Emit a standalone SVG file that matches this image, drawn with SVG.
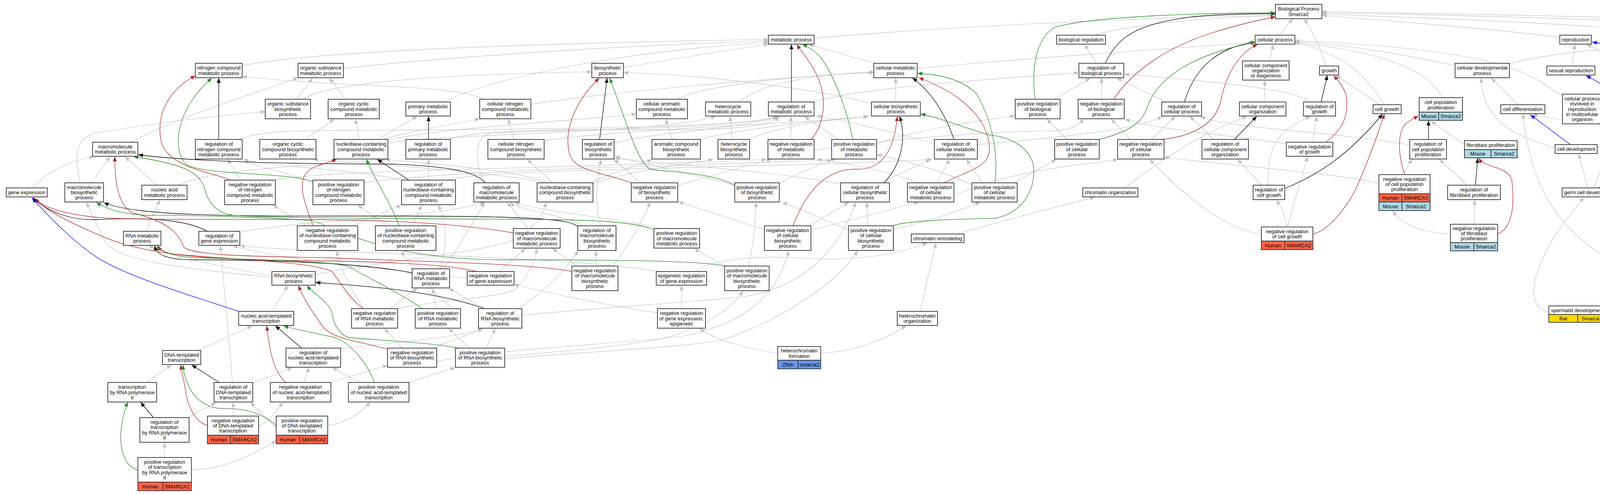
<svg xmlns="http://www.w3.org/2000/svg" width="5064" height="1267" viewBox="0 0 5064 1267">
<style>
text{font-family:"Liberation Sans",Arial,sans-serif;font-size:13px;text-anchor:middle;fill:#000}
.n rect{fill:#fff;stroke:#333;stroke-width:1.8}
.n .hu{fill:#ff6347}
.n .mo{fill:#add8e6}
.n .zf{fill:#6495ed}
.n .ra{fill:#ffd700}
.e path{fill:none}
.e .g{stroke:#c0c0c0;stroke-width:1.2;marker-end:url(#ag)}
.e .k{stroke:#000;stroke-width:1.3;marker-end:url(#ak)}
.e .r{stroke:#b22222;stroke-width:1.3;marker-end:url(#ar)}
.e .v{stroke:#228b22;stroke-width:1.3;marker-end:url(#av)}
.e .b{stroke:#0000ff;stroke-width:1.3;marker-end:url(#ab)}
</style>
<defs>
<marker id="ag" markerUnits="userSpaceOnUse" markerWidth="12" markerHeight="10" refX="12" refY="5" orient="auto"><path d="M0,0 L12,5 L0,10 z" fill="#c0c0c0"/></marker>
<marker id="ak" markerUnits="userSpaceOnUse" markerWidth="12" markerHeight="10" refX="12" refY="5" orient="auto"><path d="M0,0 L12,5 L0,10 z" fill="#000"/></marker>
<marker id="ar" markerUnits="userSpaceOnUse" markerWidth="12" markerHeight="10" refX="12" refY="5" orient="auto"><path d="M0,0 L12,5 L0,10 z" fill="#b22222"/></marker>
<marker id="av" markerUnits="userSpaceOnUse" markerWidth="12" markerHeight="10" refX="12" refY="5" orient="auto"><path d="M0,0 L12,5 L0,10 z" fill="#228b22"/></marker>
<marker id="ab" markerUnits="userSpaceOnUse" markerWidth="12" markerHeight="10" refX="12" refY="5" orient="auto"><path d="M0,0 L12,5 L0,10 z" fill="#0000ff"/></marker>
</defs>
<rect x="0" y="0" width="5064" height="1267" fill="#fff"/>
<g id="edges" class="e">
<path class="g" d="M620,168 C800,130 1400,110 1967,101"/>
<path class="g" d="M879,175 C1100,150 1600,115 1967,105"/>
<path class="g" d="M1138,261 C1250,200 1600,130 1967,109"/>
<path class="g" d="M1596,173 C1700,155 1850,130 1967,113"/>
<path class="g" d="M1240,254 C1160,215 900,225 620,196"/>
<path class="g" d="M759,254 L800,200"/>
<path class="g" d="M883,254 C870,230 855,215 843,200"/>
<path class="g" d="M336,364 C450,300 650,240 763,199"/>
<path class="g" d="M775,254 C830,215 1100,190 1515,184"/>
<path class="g" d="M206,468 C185,380 200,345 260,338 C400,315 560,295 679,286"/>
<path class="g" d="M781,357 L856,305"/>
<path class="g" d="M920,357 L910,305"/>
<path class="g" d="M401,474 L320,401"/>
<path class="g" d="M234,468 L282,401"/>
<path class="g" d="M84,481 C120,440 180,410 241,401"/>
<path class="g" d="M610,357 C680,330 800,335 1000,333 C1500,330 1900,325 1994,298"/>
<path class="g" d="M457,474 C550,430 800,425 986,408"/>
<path class="g" d="M1359,267 C1600,230 2000,200 2237,184"/>
<path class="g" d="M967,357 L1068,298"/>
<path class="g" d="M980,357 C1050,335 1150,320 1228,304"/>
<path class="g" d="M990,360 C1100,330 1400,315 1629,292"/>
<path class="g" d="M993,365 C1200,340 1700,340 1832,298"/>
<path class="g" d="M1149,357 C1200,335 1400,330 1700,332 C1900,333 1980,320 1994,298"/>
<path class="g" d="M1315,357 L1301,305"/>
<path class="g" d="M1393,360 C1600,330 2000,320 2222,298"/>
<path class="g" d="M1572,367 C1650,340 1900,330 1998,298"/>
<path class="g" d="M1097,461 L1097,408"/>
<path class="g" d="M1028,461 C900,430 700,430 623,408"/>
<path class="g" d="M1144,461 C1250,430 2000,430 2386,408"/>
<path class="g" d="M1127,688 C1140,640 1150,580 1122,525"/>
<path class="g" d="M1057,578 L1079,525"/>
<path class="g" d="M905,578 L1027,525"/>
<path class="g" d="M992,578 L916,525"/>
<path class="g" d="M783,578 L699,525"/>
<path class="g" d="M615,461 L583,408"/>
<path class="g" d="M705,461 C800,435 1500,430 1962,408"/>
<path class="g" d="M801,470 C750,440 650,430 625,408"/>
<path class="g" d="M932,468 C1200,430 1800,425 2140,408"/>
<path class="g" d="M374,592 L409,512"/>
<path class="g" d="M696,705 C600,690 450,660 380,629"/>
<path class="g" d="M696,710 C500,690 300,670 270,620 C250,580 230,540 222,518"/>
<path class="g" d="M696,797 L737,731"/>
<path class="g" d="M507,897 L645,834"/>
<path class="g" d="M374,979 L439,934"/>
<path class="g" d="M648,981 L748,941"/>
<path class="g" d="M778,979 L791,941"/>
<path class="g" d="M595,979 C585,850 570,700 564,629"/>
<path class="g" d="M481,1069 L553,1030"/>
<path class="g" d="M597,1065 L597,1030"/>
<path class="g" d="M662,1089 C690,1080 700,1060 724,1030"/>
<path class="g" d="M707,1095 C680,1070 660,1050 642,1030"/>
<path class="g" d="M839,1089 C880,1085 920,1060 948,1030"/>
<path class="g" d="M421,1171 L421,1133"/>
<path class="g" d="M490,1203 C560,1200 620,1180 707,1128"/>
<path class="g" d="M872,894 C950,880 1150,870 1236,841"/>
<path class="g" d="M845,979 L992,935"/>
<path class="g" d="M921,979 L851,941"/>
<path class="g" d="M1046,979 L1165,941"/>
<path class="g" d="M1111,891 C1150,870 1200,860 1236,841"/>
<path class="g" d="M1244,891 L1268,841"/>
<path class="g" d="M1030,891 L984,841"/>
<path class="g" d="M1201,891 L1149,841"/>
<path class="g" d="M997,790 L1068,738"/>
<path class="g" d="M1117,790 L1108,738"/>
<path class="g" d="M1240,790 L1149,738"/>
<path class="g" d="M1135,688 C1170,640 1210,570 1241,518"/>
<path class="g" d="M1277,695 L1345,636"/>
<path class="g" d="M1477,681 L1415,636"/>
<path class="g" d="M1526,681 L1526,642"/>
<path class="g" d="M1569,681 C1600,640 1640,580 1664,518"/>
<path class="g" d="M1018,790 C1100,770 1300,760 1320,740 C1340,720 1370,680 1374,636"/>
<path class="g" d="M1160,790 C1120,760 1060,700 1027,642"/>
<path class="g" d="M930,790 C900,740 870,690 862,642"/>
<path class="g" d="M1328,790 C1400,740 1450,690 1480,642"/>
<path class="g" d="M614,594 C800,560 1100,560 1241,518"/>
<path class="g" d="M1196,712 C900,680 700,660 596,629"/>
<path class="g" d="M1690,695 C1400,650 800,650 614,629"/>
<path class="g" d="M807,703 C900,680 1200,650 1300,620 C1350,600 1390,560 1398,518"/>
<path class="g" d="M1242,468 C1215,420 1210,350 1260,340 C1500,330 1900,330 1990,298"/>
<path class="g" d="M1415,468 L1350,408"/>
<path class="g" d="M1410,468 C1300,430 1050,415 986,408"/>
<path class="g" d="M1507,468 C1580,440 1640,420 1669,408"/>
<path class="g" d="M1518,470 C1600,440 1750,420 1826,408"/>
<path class="g" d="M1400,468 C1200,430 900,420 802,408"/>
<path class="g" d="M1537,578 C1520,520 1530,450 1539,408"/>
<path class="g" d="M1490,578 C1450,550 1330,540 1306,518"/>
<path class="g" d="M1352,585 L1298,518"/>
<path class="g" d="M1690,585 C1600,560 1400,545 1318,518"/>
<path class="g" d="M1640,468 L1572,408"/>
<path class="g" d="M1735,475 C1850,440 1930,420 1975,408"/>
<path class="g" d="M1881,474 C1750,440 1650,420 1575,400"/>
<path class="g" d="M1721,357 L1704,305"/>
<path class="g" d="M1786,357 C1950,320 2150,305 2222,298"/>
<path class="g" d="M1875,357 L1869,298"/>
<path class="g" d="M1919,357 C1990,320 2150,305 2225,298"/>
<path class="g" d="M1891,261 C1950,210 2100,190 2237,184"/>
<path class="g" d="M1734,254 C1800,215 2100,190 2237,186"/>
<path class="g" d="M2293,261 L2293,200"/>
<path class="g" d="M2241,162 L2070,114"/>
<path class="g" d="M2084,261 C2200,225 2500,205 2761,186"/>
<path class="g" d="M2025,357 L2025,298"/>
<path class="g" d="M2146,357 L2060,298"/>
<path class="g" d="M2392,367 C2250,330 2150,305 2090,297"/>
<path class="g" d="M2502,371 C2600,360 2900,340 2975,298"/>
<path class="g" d="M2244,369 C2350,330 2500,310 2598,296"/>
<path class="g" d="M2084,385 C2300,350 2600,335 2690,335 C2740,335 2760,320 2775,305"/>
<path class="g" d="M1996,468 C2050,440 2100,420 2130,408"/>
<path class="g" d="M2152,471 C2000,440 1700,420 1573,405"/>
<path class="g" d="M2255,468 L2382,408"/>
<path class="g" d="M2352,468 C2250,430 2150,415 2092,408"/>
<path class="g" d="M2398,468 L2431,408"/>
<path class="g" d="M2515,468 L2474,408"/>
<path class="g" d="M2488,474 C2400,430 2300,410 2244,395"/>
<path class="g" d="M2070,578 L2173,518"/>
<path class="g" d="M2076,588 C2200,560 2300,530 2352,518"/>
<path class="g" d="M2222,578 L2219,518"/>
<path class="g" d="M2287,588 C2400,560 2480,530 2509,518"/>
<path class="g" d="M2172,588 C2100,560 2040,530 2003,518"/>
<path class="g" d="M1957,588 C1870,560 1780,530 1737,517"/>
<path class="g" d="M1855,681 C1820,660 1790,645 1778,636"/>
<path class="g" d="M1916,681 C1930,620 1935,560 1935,518"/>
<path class="g" d="M1292,912 C1500,895 1650,880 1720,860 C1820,830 1880,780 1902,745"/>
<path class="g" d="M1118,925 C1300,890 1600,880 1750,860 C1900,830 1990,760 2019,642"/>
<path class="g" d="M1292,918 C1500,900 1750,890 1850,870 C2000,820 2150,720 2195,642"/>
<path class="g" d="M1336,807 C1500,790 1750,775 1900,760 C2050,740 2150,640 2190,518"/>
<path class="g" d="M1683,801 C1550,780 1400,750 1316,728"/>
<path class="g" d="M1745,790 L1745,731"/>
<path class="g" d="M1991,904 C1920,895 1830,870 1791,841"/>
<path class="g" d="M2101,904 C2200,900 2280,860 2320,834"/>
<path class="g" d="M2355,797 L2396,622"/>
<path class="g" d="M1778,695 C1830,660 1950,655 2050,660 C2200,670 2300,650 2374,622"/>
<path class="g" d="M2450,599 C2550,570 2700,530 2802,505"/>
<path class="g" d="M2084,98 C2400,70 2900,45 3265,39"/>
<path class="g" d="M2348,176 C2600,150 3000,125 3208,108"/>
<path class="g" d="M2802,90 C2900,60 3100,45 3265,40"/>
<path class="g" d="M2807,162 L2777,114"/>
<path class="g" d="M2820,254 L2820,200"/>
<path class="g" d="M2699,254 L2791,200"/>
<path class="g" d="M2986,261 L2859,200"/>
<path class="g" d="M3249,156 L3260,114"/>
<path class="g" d="M3274,90 L3309,49"/>
<path class="g" d="M3236,261 L3238,206"/>
<path class="g" d="M3108,357 L3046,298"/>
<path class="g" d="M2731,357 L2680,305"/>
<path class="g" d="M2894,357 L2845,305"/>
<path class="g" d="M2948,357 L3008,298"/>
<path class="g" d="M3293,368 C3100,340 2950,330 2880,305"/>
<path class="g" d="M3355,261 C3320,235 3200,215 2878,190"/>
<path class="g" d="M3360,364 L3371,298"/>
<path class="g" d="M3246,474 C3246,400 3250,340 3355,298"/>
<path class="g" d="M3230,474 L3168,408"/>
<path class="g" d="M3295,581 C3290,550 3280,530 3268,512"/>
<path class="g" d="M3296,581 C3310,520 3330,470 3347,401"/>
<path class="g" d="M3229,599 C3150,590 3050,520 2943,408"/>
<path class="g" d="M2878,481 C2950,430 3050,350 3192,298"/>
<path class="g" d="M2596,468 L2704,408"/>
<path class="g" d="M2442,500 C2600,430 2800,420 2862,408"/>
<path class="g" d="M3530,469 C3400,440 3100,420 2980,402"/>
<path class="g" d="M3544,268 C3500,200 3450,140 3315,108"/>
<path class="g" d="M3533,268 L3420,193"/>
<path class="g" d="M3690,250 C3670,190 3550,130 3315,110"/>
<path class="g" d="M3725,168 C3600,140 3450,115 3315,106"/>
<path class="g" d="M4000,245 C3920,200 3900,130 3315,104"/>
<path class="g" d="M3993,96 C3800,70 3500,50 3384,39"/>
<path class="g" d="M4377,92 C4000,55 3600,45 3384,36"/>
<path class="g" d="M4569,88 C4300,50 3800,40 3384,33"/>
<path class="g" d="M4765,88 C4600,50 4000,40 3384,30"/>
<path class="g" d="M3395,169 C3380,120 3360,80 3339,49"/>
<path class="g" d="M3886,268 L3818,200"/>
<path class="g" d="M3981,378 C3850,340 3800,300 3791,200"/>
<path class="g" d="M4065,481 L4041,394"/>
<path class="g" d="M4078,481 C4110,420 4115,370 4097,318"/>
<path class="g" d="M4109,481 C4200,440 4300,425 4400,408"/>
<path class="g" d="M4101,257 C4200,230 4290,215 4319,200"/>
<path class="g" d="M4024,169 L4032,114"/>
<path class="g" d="M4160,162 L4062,114"/>
<path class="g" d="M4294,254 L4335,200"/>
<path class="g" d="M4243,162 C4300,130 4450,120 4569,116"/>
<path class="g" d="M3864,162 C4000,130 4200,115 4377,108"/>
<path class="g" d="M4564,162 L4466,121"/>
<path class="g" d="M4450,357 L4428,121"/>
<path class="g" d="M4441,357 L4368,200"/>
<path class="g" d="M4292,370 L4281,305"/>
<path class="g" d="M4599,261 L4605,200"/>
<path class="g" d="M4776,261 L4646,200"/>
<path class="g" d="M4795,261 C4750,210 4720,160 4673,121"/>
<path class="g" d="M4768,158 L4673,121"/>
<path class="g" d="M4814,156 L4812,121"/>
<path class="g" d="M4940,254 L4863,206"/>
<path class="g" d="M4977,353 L4977,305"/>
<path class="g" d="M4763,370 C4720,300 4690,240 4635,200"/>
<path class="g" d="M4294,474 L4294,394"/>
<path class="g" d="M4294,598 L4294,512"/>
<path class="g" d="M4308,598 C4350,540 4420,460 4439,408"/>
<path class="g" d="M4262,700 C4400,660 4460,560 4452,408"/>
<path class="g" d="M4168,695 C4000,600 3920,500 3899,292"/>
<path class="g" d="M4189,695 C4200,560 4170,430 4108,318"/>
<path class="g" d="M3965,800 C3900,780 3930,700 3960,640 C3990,580 4030,540 4054,505"/>
<path class="g" d="M4651,682 L4613,629"/>
<path class="g" d="M4669,770 L4669,731"/>
<path class="g" d="M4597,592 L4597,401"/>
<path class="g" d="M4736,592 C4700,520 4730,440 4755,394"/>
<path class="g" d="M4806,474 L4779,394"/>
<path class="g" d="M4089,375 C4250,335 4480,330 4569,200"/>
<path class="g" d="M4569,363 C4450,320 4100,340 3924,292"/>
<path class="g" d="M3749,369 C3720,350 3690,330 3664,310"/>
<path class="g" d="M3596,447 C3600,430 3610,415 3615,408"/>
<path class="g" d="M3756,474 L3685,408"/>
<path class="g" d="M3775,574 L3775,512"/>
<path class="g" d="M3713,599 C3650,595 3590,580 3566,540"/>
<path class="g" d="M3609,371 C3400,335 3150,330 3073,298"/>
<path class="g" d="M2231,265 C2100,230 1800,190 1596,186"/>
<path class="k" d="M560,357 L560,200"/>
<path class="k" d="M1097,357 L1097,298"/>
<path class="k" d="M1535,357 L1554,200"/>
<path class="k" d="M1047,461 L966,408"/>
<path class="k" d="M1242,468 C1220,440 1150,425 1000,420 C600,420 420,405 354,396"/>
<path class="k" d="M1479,580 C1460,560 1350,553 1000,553 C600,553 360,555 266,519"/>
<path class="k" d="M531,592 C480,565 400,555 250,562 C180,566 120,540 84,506"/>
<path class="k" d="M1055,699 C950,675 700,665 500,665 C420,665 400,650 396,629"/>
<path class="k" d="M1241,790 C1100,740 900,730 808,723"/>
<path class="k" d="M772,891 L705,834"/>
<path class="k" d="M561,979 L491,934"/>
<path class="k" d="M393,1069 L360,1030"/>
<path class="k" d="M2026,261 L2026,114"/>
<path class="k" d="M2442,357 C2420,290 2380,230 2336,200"/>
<path class="k" d="M2263,468 C2310,420 2320,350 2303,298"/>
<path class="k" d="M2829,162 C2860,100 2900,60 3062,42 C3150,35 3220,35 3265,35"/>
<path class="k" d="M3032,261 C3060,170 3120,120 3214,108"/>
<path class="k" d="M3160,357 L3217,298"/>
<path class="k" d="M3382,261 L3398,193"/>
<path class="k" d="M3289,482 C3370,450 3450,400 3539,292"/>
<path class="k" d="M3657,357 L3657,309"/>
<path class="k" d="M3777,474 L3783,405"/>
<path class="r" d="M590,461 C540,440 440,430 415,370 C395,300 430,230 500,194"/>
<path class="r" d="M1464,695 C1350,672 1000,668 850,660 C600,656 490,652 470,632 C455,590 420,565 340,545 C300,525 294,460 294,401"/>
<path class="r" d="M1314,596 C1150,568 950,563 800,562 C500,560 300,565 220,553 C160,545 110,530 87,507"/>
<path class="r" d="M1220,695 C1150,675 950,670 850,668 C650,665 400,670 250,600 C180,570 110,535 90,508"/>
<path class="r" d="M930,790 C890,760 870,720 850,695 C800,670 600,665 440,650 C420,645 410,640 405,629"/>
<path class="r" d="M802,578 C770,500 760,450 800,430 C830,418 850,412 862,408"/>
<path class="r" d="M1616,468 C1540,440 1480,440 1460,400 C1440,340 1470,260 1534,200"/>
<path class="r" d="M732,979 C700,950 690,900 683,834"/>
<path class="r" d="M531,1089 C500,1080 480,1040 475,1000 C468,960 464,945 463,934"/>
<path class="r" d="M992,894 C930,875 860,870 830,840 C800,800 780,770 764,731"/>
<path class="r" d="M2076,357 C2110,320 2120,250 2090,190 C2070,150 2050,130 2040,114"/>
<path class="r" d="M2417,468 C2470,440 2525,430 2532,392 C2540,330 2490,250 2352,199"/>
<path class="r" d="M2030,578 C2060,500 2110,430 2195,433 C2260,435 2290,380 2297,298"/>
<path class="r" d="M2851,254 C2900,180 2990,120 3100,85 C3180,60 3230,50 3265,43"/>
<path class="r" d="M2970,357 C3050,350 3110,320 3125,260 C3140,180 3180,130 3219,114"/>
<path class="r" d="M3395,363 C3440,330 3455,290 3445,240 C3435,215 3425,205 3414,194"/>
<path class="r" d="M3361,599 C3400,590 3440,540 3468,490 C3500,420 3525,350 3544,292"/>
<path class="r" d="M3596,447 C3580,400 3575,340 3600,315 C3615,305 3625,300 3631,297"/>
<path class="r" d="M3834,599 C3880,580 3875,500 3870,460 C3860,425 3800,430 3786,405"/>
<path class="v" d="M801,465 C740,440 520,450 475,420 C440,380 450,280 542,200"/>
<path class="v" d="M1674,588 C1620,565 1500,562 1300,561 C1000,560 700,558 596,551 C555,545 535,520 526,490 C515,440 470,420 342,401"/>
<path class="v" d="M1022,578 C1000,520 960,460 938,408"/>
<path class="v" d="M1881,474 C1820,440 1700,440 1664,433 C1630,410 1610,330 1561,200"/>
<path class="v" d="M1855,681 C1800,668 1600,665 1300,665 C1000,665 900,600 800,565 C700,556 450,550 380,551 C330,550 280,540 247,518"/>
<path class="v" d="M1081,790 C1040,760 960,720 894,683 C860,670 700,665 500,660 C440,655 410,645 401,629"/>
<path class="v" d="M1174,891 C1100,876 950,870 894,864 C860,855 850,810 850,800 C840,770 800,750 786,731"/>
<path class="v" d="M959,979 C940,930 900,880 860,865 C800,850 760,845 726,834"/>
<path class="v" d="M707,1089 C680,1065 640,1045 580,1046 C520,1048 490,1010 480,980 C470,960 469,945 469,934"/>
<path class="v" d="M353,1203 C320,1195 305,1150 310,1100 C315,1060 322,1040 328,1030"/>
<path class="v" d="M2183,357 C2170,290 2140,200 2100,145 C2080,125 2065,118 2054,114"/>
<path class="v" d="M2547,468 C2555,400 2545,320 2500,240 C2460,200 2400,190 2349,188"/>
<path class="v" d="M2284,578 C2320,565 2450,560 2547,559 C2620,545 2655,480 2645,420 C2630,370 2580,350 2530,345 C2450,320 2400,300 2357,292"/>
<path class="v" d="M2650,254 C2640,180 2650,100 2700,70 C2800,40 3100,33 3265,33"/>
<path class="v" d="M2813,357 C2880,340 2920,320 2935,280 C2960,200 3050,140 3214,108"/>
<path class="b" d="M611,797 C500,760 330,710 250,660 C190,620 140,570 82,507"/>
<path class="b" d="M4020,370 L3918,294"/>
<path class="b" d="M4092,481 L4264,394"/>
<path class="b" d="M4259,370 C4220,340 4180,320 4160,290 C4140,250 4110,215 4060,194"/>
<path class="b" d="M4322,162 C4290,145 4200,125 4076,108"/>
<path class="b" d="M4254,254 L4215,200"/>
<path class="b" d="M4103,245 L4168,200"/>
<path class="b" d="M4597,363 L4597,298"/>
<path class="b" d="M4779,370 L4806,298"/>
<path class="b" d="M4210,695 L4278,621"/>
<path class="b" d="M4111,794 C4140,790 4165,760 4181,718"/>
<path class="b" d="M4687,682 L4727,629"/>
<path class="b" d="M4755,592 L4801,512"/>
</g>
<g id="n01" class="n"><rect x="500" y="162" width="120" height="37"/><text x="560" y="178.4"><tspan x="560">nitrogen compound</tspan><tspan x="560" dy="13.3">metabolic process</tspan></text></g>
<g id="n02" class="n"><rect x="763" y="162" width="116" height="37"/><text x="821" y="178.4"><tspan x="821">organic substance</tspan><tspan x="821" dy="13.3">metabolic process</tspan></text></g>
<g id="n03" class="n"><rect x="679" y="254" width="116" height="50"/><text x="737" y="270.2"><tspan x="737">organic substance</tspan><tspan x="737" dy="13.3">biosynthetic</tspan><tspan x="737" dy="13.3">process</tspan></text></g>
<g id="n04" class="n"><rect x="840" y="254" width="131" height="50"/><text x="905.5" y="270.2"><tspan x="905.5">organic cyclic</tspan><tspan x="905.5" dy="13.3">compound metabolic</tspan><tspan x="905.5" dy="13.3">process</tspan></text></g>
<g id="n05" class="n"><rect x="237" y="364" width="116" height="36"/><text x="295" y="379.9"><tspan x="295">macromolecule</tspan><tspan x="295" dy="13.3">metabolic process</tspan></text></g>
<g id="n06" class="n"><rect x="500" y="357" width="120" height="50"/><text x="560" y="373.2"><tspan x="560">regulation of</tspan><tspan x="560" dy="13.3">nitrogen compound</tspan><tspan x="560" dy="13.3">metabolic process</tspan></text></g>
<g id="n07" class="n"><rect x="665" y="357" width="144" height="50"/><text x="737" y="373.2"><tspan x="737">organic cyclic</tspan><tspan x="737" dy="13.3">compound biosynthetic</tspan><tspan x="737" dy="13.3">process</tspan></text></g>
<g id="n08" class="n"><rect x="16" y="481" width="105" height="23"/><text x="68.5" y="497">gene expression</text></g>
<g id="n09" class="n"><rect x="166" y="468" width="99" height="49"/><text x="215.5" y="483.7"><tspan x="215.5">macromolecule</tspan><tspan x="215.5" dy="13.3">biosynthetic</tspan><tspan x="215.5" dy="13.3">process</tspan></text></g>
<g id="n10" class="n"><rect x="363" y="474" width="116" height="37"/><text x="421" y="490.4"><tspan x="421">nucleic acid</tspan><tspan x="421" dy="13.3">metabolic process</tspan></text></g>
<g id="n11" class="n"><rect x="575" y="461" width="130" height="63"/><text x="640" y="477"><tspan x="640">negative regulation</tspan><tspan x="640" dy="13.3">of nitrogen</tspan><tspan x="640" dy="13.3">compound metabolic</tspan><tspan x="640" dy="13.3">process</tspan></text></g>
<g id="n12" class="n"><rect x="801" y="461" width="131" height="63"/><text x="866.5" y="477"><tspan x="866.5">positive regulation</tspan><tspan x="866.5" dy="13.3">of nitrogen</tspan><tspan x="866.5" dy="13.3">compound metabolic</tspan><tspan x="866.5" dy="13.3">process</tspan></text></g>
<g id="n13" class="n"><rect x="316" y="592" width="96" height="36"/><text x="364" y="607.9"><tspan x="364">RNA metabolic</tspan><tspan x="364" dy="13.3">process</tspan></text></g>
<g id="n14" class="n"><rect x="509" y="592" width="105" height="36"/><text x="561.5" y="607.9"><tspan x="561.5">regulation of</tspan><tspan x="561.5" dy="13.3">gene expression</tspan></text></g>
<g id="n15" class="n"><rect x="761" y="578" width="155" height="63"/><text x="838.5" y="594"><tspan x="838.5">negative regulation</tspan><tspan x="838.5" dy="13.3">of nucleobase-containing</tspan><tspan x="838.5" dy="13.3">compound metabolic</tspan><tspan x="838.5" dy="13.3">process</tspan></text></g>
<g id="n16" class="n"><rect x="696" y="695" width="111" height="35"/><text x="751.5" y="710.4"><tspan x="751.5">RNA biosynthetic</tspan><tspan x="751.5" dy="13.3">process</tspan></text></g>
<g id="n17" class="n"><rect x="611" y="797" width="141" height="36"/><text x="681.5" y="812.9"><tspan x="681.5">nucleic acid-templated</tspan><tspan x="681.5" dy="13.3">transcription</tspan></text></g>
<g id="n18" class="n"><rect x="416" y="897" width="98" height="36"/><text x="465" y="912.9"><tspan x="465">DNA-templated</tspan><tspan x="465" dy="13.3">transcription</tspan></text></g>
<g id="n19" class="n"><rect x="732" y="891" width="140" height="49"/><text x="802" y="906.7"><tspan x="802">regulation of</tspan><tspan x="802" dy="13.3">nucleic acid-templated</tspan><tspan x="802" dy="13.3">transcription</tspan></text></g>
<g id="n20" class="n"><rect x="276" y="979" width="125" height="50"/><text x="338.5" y="995.2"><tspan x="338.5">transcription</tspan><tspan x="338.5" dy="13.3">by RNA polymerase</tspan><tspan x="338.5" dy="13.3">II</tspan></text></g>
<g id="n21" class="n"><rect x="548" y="979" width="99" height="50"/><text x="597.5" y="995.2"><tspan x="597.5">regulation of</tspan><tspan x="597.5" dy="13.3">DNA-templated</tspan><tspan x="597.5" dy="13.3">transcription</tspan></text></g>
<g id="n22" class="n"><rect x="692" y="979" width="155" height="50"/><text x="769.5" y="995.2"><tspan x="769.5">negative regulation</tspan><tspan x="769.5" dy="13.3">of nucleic acid-templated</tspan><tspan x="769.5" dy="13.3">transcription</tspan></text></g>
<g id="n23" class="n"><rect x="358" y="1069" width="126" height="63"/><text x="421" y="1085"><tspan x="421">regulation of</tspan><tspan x="421" dy="13.3">transcription</tspan><tspan x="421" dy="13.3">by RNA polymerase</tspan><tspan x="421" dy="13.3">II</tspan></text></g>
<g id="n24" class="n"><rect x="531" y="1065" width="131" height="49"/><rect class="hu" x="531" y="1114" width="59" height="22"/><rect class="hu" x="590" y="1114" width="72" height="22"/><text x="596.5" y="1080.7"><tspan x="596.5">negative regulation</tspan><tspan x="596.5" dy="13.3">of DNA-templated</tspan><tspan x="596.5" dy="13.3">transcription</tspan></text><text x="560.5" y="1129.5">Human</text><text x="626" y="1129.5">SMARCA2</text></g>
<g id="n25" class="n"><rect x="707" y="1065" width="132" height="49"/><rect class="hu" x="707" y="1114" width="60" height="22"/><rect class="hu" x="767" y="1114" width="72" height="22"/><text x="773" y="1080.7"><tspan x="773">positive regulation</tspan><tspan x="773" dy="13.3">of DNA-templated</tspan><tspan x="773" dy="13.3">transcription</tspan></text><text x="737" y="1129.5">Human</text><text x="803" y="1129.5">SMARCA2</text></g>
<g id="n26" class="n"><rect x="353" y="1171" width="137" height="63"/><rect class="hu" x="353" y="1234" width="64" height="22"/><rect class="hu" x="417" y="1234" width="73" height="22"/><text x="421.5" y="1187"><tspan x="421.5">positive regulation</tspan><tspan x="421.5" dy="13.3">of transcription</tspan><tspan x="421.5" dy="13.3">by RNA polymerase</tspan><tspan x="421.5" dy="13.3">II</tspan></text><text x="385" y="1249.5">Human</text><text x="453.5" y="1249.5">SMARCA2</text></g>
<g id="n27" class="n"><rect x="1515" y="162" width="81" height="37"/><text x="1555.5" y="178.4"><tspan x="1555.5">biosynthetic</tspan><tspan x="1555.5" dy="13.3">process</tspan></text></g>
<g id="n28" class="n"><rect x="1039" y="261" width="114" height="36"/><text x="1096" y="276.9"><tspan x="1096">primary metabolic</tspan><tspan x="1096" dy="13.3">process</tspan></text></g>
<g id="n29" class="n"><rect x="1228" y="254" width="131" height="50"/><text x="1293.5" y="270.2"><tspan x="1293.5">cellular nitrogen</tspan><tspan x="1293.5" dy="13.3">compound metabolic</tspan><tspan x="1293.5" dy="13.3">process</tspan></text></g>
<g id="n30" class="n"><rect x="1629" y="254" width="131" height="50"/><text x="1694.5" y="270.2"><tspan x="1694.5">cellular aromatic</tspan><tspan x="1694.5" dy="13.3">compound metabolic</tspan><tspan x="1694.5" dy="13.3">process</tspan></text></g>
<g id="n31" class="n"><rect x="855" y="357" width="138" height="50"/><text x="924" y="373.2"><tspan x="924">nucleobase-containing</tspan><tspan x="924" dy="13.3">compound metabolic</tspan><tspan x="924" dy="13.3">process</tspan></text></g>
<g id="n32" class="n"><rect x="1039" y="357" width="114" height="50"/><text x="1096" y="373.2"><tspan x="1096">regulation of</tspan><tspan x="1096" dy="13.3">primary metabolic</tspan><tspan x="1096" dy="13.3">process</tspan></text></g>
<g id="n33" class="n"><rect x="1249" y="357" width="144" height="50"/><text x="1321" y="373.2"><tspan x="1321">cellular nitrogen</tspan><tspan x="1321" dy="13.3">compound biosynthetic</tspan><tspan x="1321" dy="13.3">process</tspan></text></g>
<g id="n34" class="n"><rect x="1491" y="357" width="81" height="50"/><text x="1531.5" y="373.2"><tspan x="1531.5">regulation of</tspan><tspan x="1531.5" dy="13.3">biosynthetic</tspan><tspan x="1531.5" dy="13.3">process</tspan></text></g>
<g id="n35" class="n"><rect x="1669" y="357" width="124" height="50"/><text x="1731" y="373.2"><tspan x="1731">aromatic compound</tspan><tspan x="1731" dy="13.3">biosynthetic</tspan><tspan x="1731" dy="13.3">process</tspan></text></g>
<g id="n36" class="n"><rect x="1028" y="461" width="138" height="63"/><text x="1097" y="477"><tspan x="1097">regulation of</tspan><tspan x="1097" dy="13.3">nucleobase-containing</tspan><tspan x="1097" dy="13.3">compound metabolic</tspan><tspan x="1097" dy="13.3">process</tspan></text></g>
<g id="n37" class="n"><rect x="1213" y="468" width="116" height="49"/><text x="1271" y="483.7"><tspan x="1271">regulation of</tspan><tspan x="1271" dy="13.3">macromolecule</tspan><tspan x="1271" dy="13.3">metabolic process</tspan></text></g>
<g id="n38" class="n"><rect x="1375" y="468" width="143" height="49"/><text x="1446.5" y="483.7"><tspan x="1446.5">nucleobase-containing</tspan><tspan x="1446.5" dy="13.3">compound biosynthetic</tspan><tspan x="1446.5" dy="13.3">process</tspan></text></g>
<g id="n39" class="n"><rect x="1616" y="468" width="119" height="49"/><text x="1675.5" y="483.7"><tspan x="1675.5">negative regulation</tspan><tspan x="1675.5" dy="13.3">of biosynthetic</tspan><tspan x="1675.5" dy="13.3">process</tspan></text></g>
<g id="n40" class="n"><rect x="961" y="578" width="155" height="63"/><text x="1038.5" y="594"><tspan x="1038.5">positive regulation</tspan><tspan x="1038.5" dy="13.3">of nucleobase-containing</tspan><tspan x="1038.5" dy="13.3">compound metabolic</tspan><tspan x="1038.5" dy="13.3">process</tspan></text></g>
<g id="n41" class="n"><rect x="1314" y="585" width="120" height="50"/><text x="1374" y="601.2"><tspan x="1374">negative regulation</tspan><tspan x="1374" dy="13.3">of macromolecule</tspan><tspan x="1374" dy="13.3">metabolic process</tspan></text></g>
<g id="n42" class="n"><rect x="1479" y="578" width="98" height="63"/><text x="1528" y="594"><tspan x="1528">regulation of</tspan><tspan x="1528" dy="13.3">macromolecule</tspan><tspan x="1528" dy="13.3">biosynthetic</tspan><tspan x="1528" dy="13.3">process</tspan></text></g>
<g id="n43" class="n"><rect x="1674" y="585" width="117" height="50"/><text x="1732.5" y="601.2"><tspan x="1732.5">positive regulation</tspan><tspan x="1732.5" dy="13.3">of macromolecule</tspan><tspan x="1732.5" dy="13.3">metabolic process</tspan></text></g>
<g id="n44" class="n"><rect x="1055" y="688" width="96" height="49"/><text x="1103" y="703.7"><tspan x="1103">regulation of</tspan><tspan x="1103" dy="13.3">RNA metabolic</tspan><tspan x="1103" dy="13.3">process</tspan></text></g>
<g id="n45" class="n"><rect x="1196" y="695" width="120" height="35"/><text x="1256" y="710.4"><tspan x="1256">negative regulation</tspan><tspan x="1256" dy="13.3">of gene expression</tspan></text></g>
<g id="n46" class="n"><rect x="1464" y="681" width="118" height="63"/><text x="1523" y="697"><tspan x="1523">negative regulation</tspan><tspan x="1523" dy="13.3">of macromolecule</tspan><tspan x="1523" dy="13.3">biosynthetic</tspan><tspan x="1523" dy="13.3">process</tspan></text></g>
<g id="n47" class="n"><rect x="1680" y="695" width="129" height="35"/><text x="1744.5" y="710.4"><tspan x="1744.5">epigenetic regulation</tspan><tspan x="1744.5" dy="13.3">of gene expression</tspan></text></g>
<g id="n48" class="n"><rect x="900" y="790" width="118" height="50"/><text x="959" y="806.2"><tspan x="959">negative regulation</tspan><tspan x="959" dy="13.3">of RNA metabolic</tspan><tspan x="959" dy="13.3">process</tspan></text></g>
<g id="n49" class="n"><rect x="1063" y="790" width="116" height="50"/><text x="1121" y="806.2"><tspan x="1121">positive regulation</tspan><tspan x="1121" dy="13.3">of RNA metabolic</tspan><tspan x="1121" dy="13.3">process</tspan></text></g>
<g id="n50" class="n"><rect x="1225" y="790" width="111" height="50"/><text x="1280.5" y="806.2"><tspan x="1280.5">regulation of</tspan><tspan x="1280.5" dy="13.3">RNA biosynthetic</tspan><tspan x="1280.5" dy="13.3">process</tspan></text></g>
<g id="n51" class="n"><rect x="1683" y="790" width="123" height="50"/><text x="1744.5" y="806.2"><tspan x="1744.5">negative regulation</tspan><tspan x="1744.5" dy="13.3">of gene expression,</tspan><tspan x="1744.5" dy="13.3">epigenetic</tspan></text></g>
<g id="n52" class="n"><rect x="992" y="891" width="126" height="49"/><text x="1055" y="906.7"><tspan x="1055">negative regulation</tspan><tspan x="1055" dy="13.3">of RNA biosynthetic</tspan><tspan x="1055" dy="13.3">process</tspan></text></g>
<g id="n53" class="n"><rect x="1166" y="891" width="126" height="49"/><text x="1229" y="906.7"><tspan x="1229">positive regulation</tspan><tspan x="1229" dy="13.3">of RNA biosynthetic</tspan><tspan x="1229" dy="13.3">process</tspan></text></g>
<g id="n54" class="n"><rect x="892" y="979" width="155" height="50"/><text x="969.5" y="995.2"><tspan x="969.5">positive regulation</tspan><tspan x="969.5" dy="13.3">of nucleic acid-templated</tspan><tspan x="969.5" dy="13.3">transcription</tspan></text></g>
<g id="n55" class="n"><rect x="1967" y="90" width="117" height="23"/><text x="2025.5" y="106">metabolic process</text></g>
<g id="n56" class="n"><rect x="2237" y="162" width="111" height="37"/><text x="2292.5" y="178.4"><tspan x="2292.5">cellular metabolic</tspan><tspan x="2292.5" dy="13.3">process</tspan></text></g>
<g id="n57" class="n"><rect x="1806" y="261" width="116" height="36"/><text x="1864" y="276.9"><tspan x="1864">heterocycle</tspan><tspan x="1864" dy="13.3">metabolic process</tspan></text></g>
<g id="n58" class="n"><rect x="1967" y="261" width="117" height="36"/><text x="2025.5" y="276.9"><tspan x="2025.5">regulation of</tspan><tspan x="2025.5" dy="13.3">metabolic process</tspan></text></g>
<g id="n59" class="n"><rect x="2231" y="261" width="125" height="36"/><text x="2293.5" y="276.9"><tspan x="2293.5">cellular biosynthetic</tspan><tspan x="2293.5" dy="13.3">process</tspan></text></g>
<g id="n60" class="n"><rect x="1838" y="357" width="81" height="50"/><text x="1878.5" y="373.2"><tspan x="1878.5">heterocycle</tspan><tspan x="1878.5" dy="13.3">biosynthetic</tspan><tspan x="1878.5" dy="13.3">process</tspan></text></g>
<g id="n61" class="n"><rect x="1966" y="357" width="118" height="50"/><text x="2025" y="373.2"><tspan x="2025">negative regulation</tspan><tspan x="2025" dy="13.3">of metabolic</tspan><tspan x="2025" dy="13.3">process</tspan></text></g>
<g id="n62" class="n"><rect x="2129" y="357" width="115" height="50"/><text x="2186.5" y="373.2"><tspan x="2186.5">positive regulation</tspan><tspan x="2186.5" dy="13.3">of metabolic</tspan><tspan x="2186.5" dy="13.3">process</tspan></text></g>
<g id="n63" class="n"><rect x="2392" y="357" width="110" height="50"/><text x="2447" y="373.2"><tspan x="2447">regulation of</tspan><tspan x="2447" dy="13.3">cellular metabolic</tspan><tspan x="2447" dy="13.3">process</tspan></text></g>
<g id="n64" class="n"><rect x="1881" y="468" width="114" height="49"/><text x="1938" y="483.7"><tspan x="1938">positive regulation</tspan><tspan x="1938" dy="13.3">of biosynthetic</tspan><tspan x="1938" dy="13.3">process</tspan></text></g>
<g id="n65" class="n"><rect x="2152" y="468" width="125" height="49"/><text x="2214.5" y="483.7"><tspan x="2214.5">regulation of</tspan><tspan x="2214.5" dy="13.3">cellular biosynthetic</tspan><tspan x="2214.5" dy="13.3">process</tspan></text></g>
<g id="n66" class="n"><rect x="2323" y="468" width="119" height="49"/><text x="2382.5" y="483.7"><tspan x="2382.5">negative regulation</tspan><tspan x="2382.5" dy="13.3">of cellular</tspan><tspan x="2382.5" dy="13.3">metabolic process</tspan></text></g>
<g id="n67" class="n"><rect x="2488" y="468" width="116" height="49"/><text x="2546" y="483.7"><tspan x="2546">positive regulation</tspan><tspan x="2546" dy="13.3">of cellular</tspan><tspan x="2546" dy="13.3">metabolic process</tspan></text></g>
<g id="n68" class="n"><rect x="1957" y="578" width="119" height="63"/><text x="2016.5" y="594"><tspan x="2016.5">negative regulation</tspan><tspan x="2016.5" dy="13.3">of cellular</tspan><tspan x="2016.5" dy="13.3">biosynthetic</tspan><tspan x="2016.5" dy="13.3">process</tspan></text></g>
<g id="n69" class="n"><rect x="2172" y="578" width="115" height="63"/><text x="2229.5" y="594"><tspan x="2229.5">positive regulation</tspan><tspan x="2229.5" dy="13.3">of cellular</tspan><tspan x="2229.5" dy="13.3">biosynthetic</tspan><tspan x="2229.5" dy="13.3">process</tspan></text></g>
<g id="n70" class="n"><rect x="2333" y="599" width="135" height="22"/><text x="2400.5" y="614.5">chromatin remodeling</text></g>
<g id="n71" class="n"><rect x="1855" y="681" width="114" height="63"/><text x="1912" y="697"><tspan x="1912">positive regulation</tspan><tspan x="1912" dy="13.3">of macromolecule</tspan><tspan x="1912" dy="13.3">biosynthetic</tspan><tspan x="1912" dy="13.3">process</tspan></text></g>
<g id="n72" class="n"><rect x="1991" y="887" width="110" height="35"/><rect class="zf" x="1991" y="922" width="52" height="22"/><rect class="zf" x="2043" y="922" width="58" height="22"/><text x="2046" y="902.4"><tspan x="2046">heterochromatin</tspan><tspan x="2046" dy="13.3">formation</tspan></text><text x="2017" y="937.5">Zfish</text><text x="2072" y="937.5">smarca2</text></g>
<g id="n73" class="n"><rect x="2297" y="797" width="103" height="36"/><text x="2348.5" y="812.9"><tspan x="2348.5">heterochromatin</tspan><tspan x="2348.5" dy="13.3">organization</tspan></text></g>
<g id="n74" class="n"><rect x="3265" y="11" width="119" height="37"/><text x="3324.5" y="27.4"><tspan x="3324.5">Biological Process</tspan><tspan x="3324.5" dy="13.3">Smarca2</tspan></text></g>
<g id="n75" class="n"><rect x="2705" y="90" width="125" height="23"/><text x="2767.5" y="106">biological regulation</text></g>
<g id="n76" class="n"><rect x="3213" y="90" width="102" height="23"/><text x="3264" y="106">cellular process</text></g>
<g id="n77" class="n"><rect x="2762" y="162" width="115" height="37"/><text x="2819.5" y="178.4"><tspan x="2819.5">regulation of</tspan><tspan x="2819.5" dy="13.3">biological process</tspan></text></g>
<g id="n78" class="n"><rect x="3181" y="156" width="119" height="49"/><text x="3240.5" y="171.7"><tspan x="3240.5">cellular component</tspan><tspan x="3240.5" dy="13.3">organization</tspan><tspan x="3240.5" dy="13.3">or biogenesis</tspan></text></g>
<g id="n79" class="n"><rect x="2599" y="254" width="115" height="50"/><text x="2656.5" y="270.2"><tspan x="2656.5">positive regulation</tspan><tspan x="2656.5" dy="13.3">of biological</tspan><tspan x="2656.5" dy="13.3">process</tspan></text></g>
<g id="n80" class="n"><rect x="2760" y="254" width="118" height="50"/><text x="2819" y="270.2"><tspan x="2819">negative regulation</tspan><tspan x="2819" dy="13.3">of biological</tspan><tspan x="2819" dy="13.3">process</tspan></text></g>
<g id="n81" class="n"><rect x="2974" y="261" width="102" height="36"/><text x="3025" y="276.9"><tspan x="3025">regulation of</tspan><tspan x="3025" dy="13.3">cellular process</tspan></text></g>
<g id="n82" class="n"><rect x="3173" y="261" width="119" height="36"/><text x="3232.5" y="276.9"><tspan x="3232.5">cellular component</tspan><tspan x="3232.5" dy="13.3">organization</tspan></text></g>
<g id="n83" class="n"><rect x="3337" y="261" width="82" height="36"/><text x="3378" y="276.9"><tspan x="3378">regulation of</tspan><tspan x="3378" dy="13.3">growth</tspan></text></g>
<g id="n84" class="n"><rect x="2700" y="357" width="114" height="50"/><text x="2757" y="373.2"><tspan x="2757">positive regulation</tspan><tspan x="2757" dy="13.3">of cellular</tspan><tspan x="2757" dy="13.3">process</tspan></text></g>
<g id="n85" class="n"><rect x="2861" y="357" width="119" height="50"/><text x="2920.5" y="373.2"><tspan x="2920.5">negative regulation</tspan><tspan x="2920.5" dy="13.3">of cellular</tspan><tspan x="2920.5" dy="13.3">process</tspan></text></g>
<g id="n86" class="n"><rect x="3077" y="357" width="119" height="50"/><text x="3136.5" y="373.2"><tspan x="3136.5">regulation of</tspan><tspan x="3136.5" dy="13.3">cellular component</tspan><tspan x="3136.5" dy="13.3">organization</tspan></text></g>
<g id="n87" class="n"><rect x="3293" y="364" width="119" height="36"/><text x="3352.5" y="379.9"><tspan x="3352.5">negative regulation</tspan><tspan x="3352.5" dy="13.3">of growth</tspan></text></g>
<g id="n88" class="n"><rect x="2772" y="481" width="141" height="23"/><text x="2842.5" y="497">chromatin organization</text></g>
<g id="n89" class="n"><rect x="3208" y="474" width="81" height="37"/><text x="3248.5" y="490.4"><tspan x="3248.5">regulation of</tspan><tspan x="3248.5" dy="13.3">cell growth</tspan></text></g>
<g id="n90" class="n"><rect x="3229" y="581" width="132" height="36"/><rect class="hu" x="3229" y="617" width="60" height="22"/><rect class="hu" x="3289" y="617" width="72" height="22"/><text x="3295" y="596.9"><tspan x="3295">negative regulation</tspan><tspan x="3295" dy="13.3">of cell growth</tspan></text><text x="3259" y="632.5">Human</text><text x="3325" y="632.5">SMARCA2</text></g>
<g id="n91" class="n"><rect x="3378" y="169" width="49" height="23"/><text x="3402.5" y="185">growth</text></g>
<g id="n92" class="n"><rect x="3993" y="90" width="81" height="23"/><text x="4033.5" y="106">reproduction</text></g>
<g id="n93" class="n"><rect x="3725" y="162" width="139" height="37"/><text x="3794.5" y="178.4"><tspan x="3794.5">cellular developmental</tspan><tspan x="3794.5" dy="13.3">process</tspan></text></g>
<g id="n94" class="n"><rect x="3960" y="169" width="123" height="23"/><text x="4021.5" y="185">sexual reproduction</text></g>
<g id="n95" class="n"><rect x="4128" y="162" width="139" height="37"/><text x="4197.5" y="178.4"><tspan x="4197.5">multicellular</tspan><tspan x="4197.5" dy="13.3">organism reproduction</tspan></text></g>
<g id="n96" class="n"><rect x="3515" y="268" width="72" height="23"/><text x="3551" y="284">cell growth</text></g>
<g id="n97" class="n"><rect x="3633" y="250" width="111" height="37"/><rect class="mo" x="3633" y="287" width="50" height="21"/><rect class="mo" x="3683" y="287" width="61" height="21"/><text x="3688.5" y="266.4"><tspan x="3688.5">cell population</tspan><tspan x="3688.5" dy="13.3">proliferation</tspan></text><text x="3658" y="302">Mouse</text><text x="3713.5" y="302">Smarca2</text></g>
<g id="n98" class="n"><rect x="3842" y="268" width="113" height="23"/><text x="3898.5" y="284">cell differentiation</text></g>
<g id="n99" class="n"><rect x="4000" y="241" width="101" height="76"/><text x="4050.5" y="256.9"><tspan x="4050.5">cellular process</tspan><tspan x="4050.5" dy="13.3">involved in</tspan><tspan x="4050.5" dy="13.3">reproduction</tspan><tspan x="4050.5" dy="13.3">in multicellular</tspan><tspan x="4050.5" dy="13.3">organism</tspan></text></g>
<g id="n100" class="n"><rect x="4199" y="254" width="147" height="50"/><text x="4272.5" y="270.2"><tspan x="4272.5">multicellular</tspan><tspan x="4272.5" dy="13.3">organismal reproductive</tspan><tspan x="4272.5" dy="13.3">process</tspan></text></g>
<g id="n101" class="n"><rect x="3609" y="357" width="94" height="50"/><text x="3656" y="373.2"><tspan x="3656">regulation of</tspan><tspan x="3656" dy="13.3">cell population</tspan><tspan x="3656" dy="13.3">proliferation</tspan></text></g>
<g id="n102" class="n"><rect x="3749" y="360" width="135" height="23"/><rect class="mo" x="3749" y="383" width="68" height="21"/><rect class="mo" x="3817" y="383" width="67" height="21"/><text x="3816.5" y="376">fibroblast proliferation</text><text x="3783" y="398">Mouse</text><text x="3850.5" y="398">Smarca2</text></g>
<g id="n103" class="n"><rect x="3981" y="370" width="108" height="23"/><text x="4035" y="386">cell development</text></g>
<g id="n104" class="n"><rect x="3530" y="447" width="131" height="49"/><rect class="hu" x="3530" y="496" width="59" height="21"/><rect class="hu" x="3589" y="496" width="72" height="21"/><rect class="mo" x="3530" y="517" width="59" height="22"/><rect class="mo" x="3589" y="517" width="72" height="22"/><text x="3595.5" y="462.7"><tspan x="3595.5">negative regulation</tspan><tspan x="3595.5" dy="13.3">of cell population</tspan><tspan x="3595.5" dy="13.3">proliferation</tspan></text><text x="3559.5" y="511">Human</text><text x="3625" y="511">SMARCA2</text><text x="3559.5" y="532.5">Mouse</text><text x="3625" y="532.5">Smarca2</text></g>
<g id="n105" class="n"><rect x="3706" y="474" width="135" height="37"/><text x="3773.5" y="490.4"><tspan x="3773.5">regulation of</tspan><tspan x="3773.5" dy="13.3">fibroblast proliferation</tspan></text></g>
<g id="n106" class="n"><rect x="3999" y="481" width="141" height="23"/><text x="4069.5" y="497">germ cell development</text></g>
<g id="n107" class="n"><rect x="3713" y="574" width="121" height="47"/><rect class="mo" x="3713" y="621" width="60" height="21"/><rect class="mo" x="3773" y="621" width="61" height="21"/><text x="3773.5" y="588.7"><tspan x="3773.5">negative regulation</tspan><tspan x="3773.5" dy="13.3">of fibroblast</tspan><tspan x="3773.5" dy="13.3">proliferation</tspan></text><text x="3743" y="636">Mouse</text><text x="3803.5" y="636">Smarca2</text></g>
<g id="n108" class="n"><rect x="4377" y="84" width="95" height="36"/><text x="4424.5" y="99.9"><tspan x="4424.5">developmental</tspan><tspan x="4424.5" dy="13.3">process</tspan></text></g>
<g id="n109" class="n"><rect x="4569" y="84" width="123" height="36"/><text x="4630.5" y="99.9"><tspan x="4630.5">multicellular</tspan><tspan x="4630.5" dy="13.3">organismal process</tspan></text></g>
<g id="n110" class="n"><rect x="4765" y="84" width="82" height="36"/><text x="4806" y="99.9"><tspan x="4806">homeostatic</tspan><tspan x="4806" dy="13.3">process</tspan></text></g>
<g id="n111" class="n"><rect x="4313" y="162" width="82" height="37"/><text x="4354" y="178.4"><tspan x="4354">reproductive</tspan><tspan x="4354" dy="13.3">process</tspan></text></g>
<g id="n112" class="n"><rect x="4543" y="162" width="129" height="37"/><text x="4607.5" y="178.4"><tspan x="4607.5">anatomical structure</tspan><tspan x="4607.5" dy="13.3">development</tspan></text></g>
<g id="n113" class="n"><rect x="4768" y="156" width="104" height="49"/><text x="4820" y="171.7"><tspan x="4820">multicellular</tspan><tspan x="4820" dy="13.3">organismal-level</tspan><tspan x="4820" dy="13.3">homeostasis</tspan></text></g>
<g id="n114" class="n"><rect x="4543" y="261" width="108" height="36"/><text x="4597" y="276.9"><tspan x="4597">muscle structure</tspan><tspan x="4597" dy="13.3">development</tspan></text></g>
<g id="n115" class="n"><rect x="4746" y="261" width="142" height="36"/><text x="4817" y="276.9"><tspan x="4817">multicellular</tspan><tspan x="4817" dy="13.3">organism development</tspan></text></g>
<g id="n116" class="n"><rect x="4934" y="254" width="85" height="50"/><text x="4976.5" y="270.2"><tspan x="4976.5">homeostasis</tspan><tspan x="4976.5" dy="13.3">of number of</tspan><tspan x="4976.5" dy="13.3">cells</tspan></text></g>
<g id="n117" class="n"><rect x="4236" y="370" width="117" height="23"/><text x="4294.5" y="386">gamete generation</text></g>
<g id="n118" class="n"><rect x="4400" y="357" width="108" height="50"/><text x="4454" y="373.2"><tspan x="4454">developmental</tspan><tspan x="4454" dy="13.3">process involved</tspan><tspan x="4454" dy="13.3">in reproduction</tspan></text></g>
<g id="n119" class="n"><rect x="4553" y="364" width="88" height="36"/><text x="4597" y="379.9"><tspan x="4597">muscle cell</tspan><tspan x="4597" dy="13.3">differentiation</tspan></text></g>
<g id="n120" class="n"><rect x="4708" y="370" width="130" height="23"/><text x="4773" y="386">system development</text></g>
<g id="n121" class="n"><rect x="4905" y="353" width="143" height="36"/><rect class="mo" x="4905" y="389" width="72" height="22"/><rect class="mo" x="4977" y="389" width="71" height="22"/><text x="4976.5" y="368.9"><tspan x="4976.5">hematopoietic</tspan><tspan x="4976.5" dy="13.3">stem cell homeostasis</tspan></text><text x="4941" y="404.5">Mouse</text><text x="5012.5" y="404.5">Smarca2</text></g>
<g id="n122" class="n"><rect x="4252" y="474" width="85" height="37"/><text x="4294.5" y="490.4"><tspan x="4294.5">male gamete</tspan><tspan x="4294.5" dy="13.3">generation</tspan></text></g>
<g id="n123" class="n"><rect x="4749" y="474" width="131" height="37"/><text x="4814.5" y="490.4"><tspan x="4814.5">circulatory</tspan><tspan x="4814.5" dy="13.3">system development</tspan></text></g>
<g id="n124" class="n"><rect x="4240" y="598" width="109" height="22"/><text x="4294.5" y="613.5">spermatogenesis</text></g>
<g id="n125" class="n"><rect x="4541" y="592" width="112" height="36"/><text x="4597" y="607.9"><tspan x="4597">smooth muscle</tspan><tspan x="4597" dy="13.3">cell differentiation</tspan></text></g>
<g id="n126" class="n"><rect x="4700" y="592" width="84" height="36"/><text x="4742" y="607.9"><tspan x="4742">vasculature</tspan><tspan x="4742" dy="13.3">development</tspan></text></g>
<g id="n127" class="n"><rect x="4114" y="695" width="148" height="22"/><text x="4188" y="710.5">spermatid differentiation</text></g>
<g id="n128" class="n"><rect x="4605" y="682" width="127" height="48"/><text x="4668.5" y="697.2"><tspan x="4668.5">vascular associated</tspan><tspan x="4668.5" dy="13.3">smooth muscle</tspan><tspan x="4668.5" dy="13.3">cell differentiation</tspan></text></g>
<g id="n129" class="n"><rect x="4613" y="770" width="111" height="47"/><rect class="mo" x="4613" y="817" width="50" height="21"/><rect class="mo" x="4663" y="817" width="61" height="21"/><text x="4668.5" y="784.7"><tspan x="4668.5">aortic smooth</tspan><tspan x="4668.5" dy="13.3">muscle cell</tspan><tspan x="4668.5" dy="13.3">differentiation</tspan></text><text x="4638" y="832">Mouse</text><text x="4693.5" y="832">Smarca2</text></g>
<g id="n130" class="n"><rect x="3965" y="783" width="146" height="22"/><rect class="ra" x="3965" y="805" width="74" height="20"/><rect class="ra" x="4039" y="805" width="72" height="20"/><text x="4038" y="798.5">spermatid development</text><text x="4002" y="819.5">Rat</text><text x="4075" y="819.5">Smarca2</text></g>
</svg>
